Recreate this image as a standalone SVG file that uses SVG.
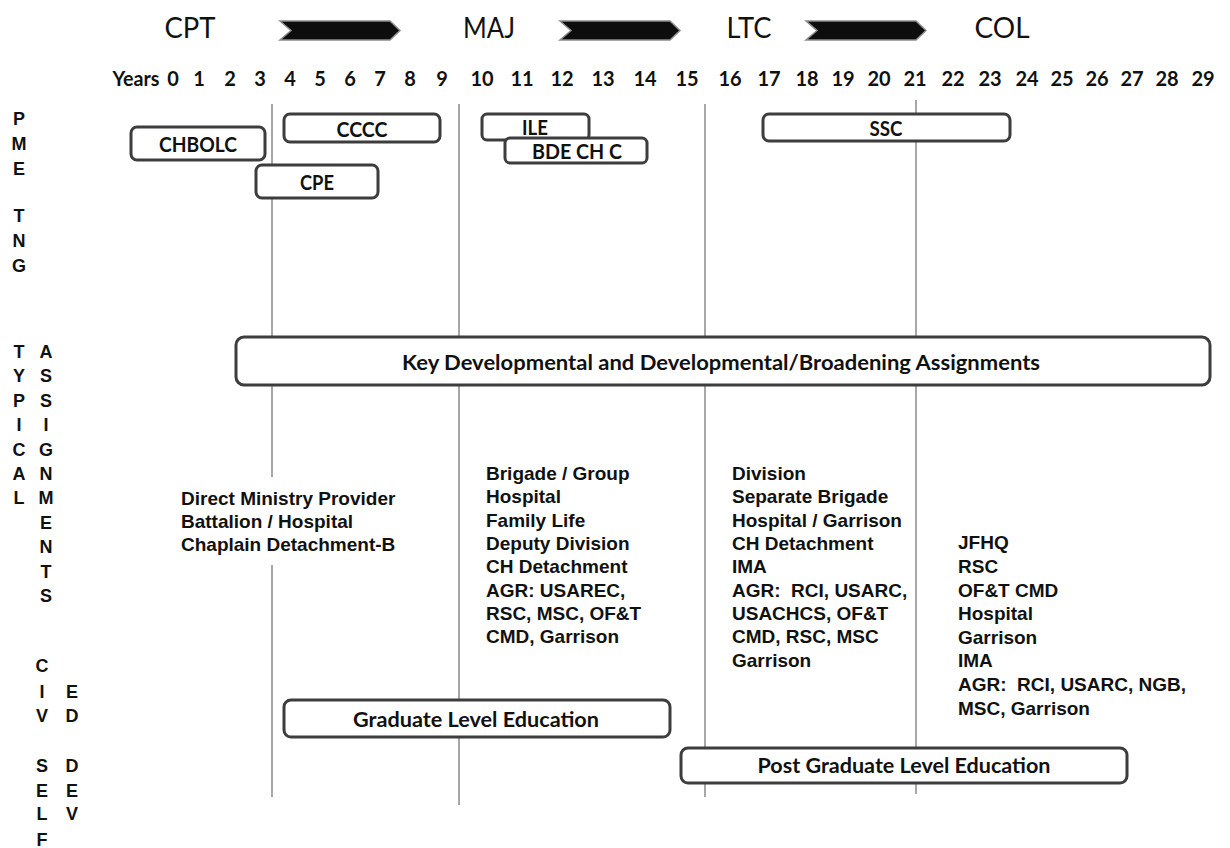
<svg xmlns="http://www.w3.org/2000/svg" width="1230" height="848" viewBox="0 0 1230 848">
<style>
.rank{font-family:Lato,"Liberation Sans",sans-serif;font-size:29px;fill:#111;text-anchor:middle}
.yr{font-family:Lato,"Liberation Sans",sans-serif;font-weight:700;font-size:20px;fill:#111;text-anchor:middle}
.side{font-family:"Liberation Sans",Arial,sans-serif;font-weight:700;font-size:18px;fill:#111;text-anchor:middle}
.side2{font-family:"Liberation Sans Narrow","Liberation Sans",Arial,sans-serif;font-stretch:condensed;font-weight:700;font-size:18px;fill:#111;text-anchor:middle}
.box{fill:#fff;stroke:#3d3d3d;stroke-width:3}
.bt{font-family:Lato,"Liberation Sans",sans-serif;font-weight:700;font-size:21px;fill:#111;text-anchor:middle}
.asg{font-family:"Liberation Sans",Arial,sans-serif;font-weight:700;font-size:19px;fill:#111}
.vl{stroke:#8a8a8a;stroke-width:1.5;fill:none}
.chev{fill:#0d0d0d;stroke:#8c8c8c;stroke-width:1.5}
</style>

<g id="ranks">
<text class="rank" x="190" y="38" textLength="51" lengthAdjust="spacingAndGlyphs">CPT</text>
<text class="rank" x="489" y="38" textLength="52" lengthAdjust="spacingAndGlyphs">MAJ</text>
<text class="rank" x="749" y="38" textLength="45" lengthAdjust="spacingAndGlyphs">LTC</text>
<text class="rank" x="1002" y="38" textLength="55" lengthAdjust="spacingAndGlyphs">COL</text>
<polygon class="chev" points="280,21 390,21 400,30.5 390,40 280,40 291,30.5"/>
<polygon class="chev" points="560,21 670,21 680,30.5 670,40 560,40 571,30.5"/>
<polygon class="chev" points="806,21 916,21 926,30.5 916,40 806,40 817,30.5"/>
</g>

<g id="years">
<text class="yr" x="136" y="86" textLength="47" lengthAdjust="spacingAndGlyphs">Years</text>
<text class="yr" x="173" y="86">0</text>
<text class="yr" x="199" y="86">1</text>
<text class="yr" x="230" y="86">2</text>
<text class="yr" x="260" y="86">3</text>
<text class="yr" x="290" y="86">4</text>
<text class="yr" x="320" y="86">5</text>
<text class="yr" x="350" y="86">6</text>
<text class="yr" x="380" y="86">7</text>
<text class="yr" x="410" y="86">8</text>
<text class="yr" x="442" y="86">9</text>
<text class="yr" x="482" y="86">10</text>
<text class="yr" x="522" y="86">11</text>
<text class="yr" x="562" y="86">12</text>
<text class="yr" x="603" y="86">13</text>
<text class="yr" x="645" y="86">14</text>
<text class="yr" x="687" y="86">15</text>
<text class="yr" x="730" y="86">16</text>
<text class="yr" x="769" y="86">17</text>
<text class="yr" x="807" y="86">18</text>
<text class="yr" x="843" y="86">19</text>
<text class="yr" x="879" y="86">20</text>
<text class="yr" x="915" y="86">21</text>
<text class="yr" x="953" y="86">22</text>
<text class="yr" x="990" y="86">23</text>
<text class="yr" x="1027" y="86">24</text>
<text class="yr" x="1062" y="86">25</text>
<text class="yr" x="1097" y="86">26</text>
<text class="yr" x="1132" y="86">27</text>
<text class="yr" x="1167" y="86">28</text>
<text class="yr" x="1203" y="86">29</text>
</g>

<g id="side-labels">
<text class="side" x="19" y="125">P</text>
<text class="side" x="19" y="150">M</text>
<text class="side" x="19" y="175">E</text>
<text class="side" x="19" y="222">T</text>
<text class="side" x="19" y="247">N</text>
<text class="side" x="19" y="272">G</text>

<text class="side" x="19" y="358">T</text>
<text class="side" x="19" y="382">Y</text>
<text class="side" x="19" y="407">P</text>
<text class="side" x="19" y="431">I</text>
<text class="side" x="19" y="456">C</text>
<text class="side" x="19" y="480">A</text>
<text class="side" x="19" y="504">L</text>

<text class="side" x="46" y="358">A</text>
<text class="side" x="46" y="382">S</text>
<text class="side" x="46" y="407">S</text>
<text class="side" x="46" y="431">I</text>
<text class="side" x="46" y="456">G</text>
<text class="side" x="46" y="480">N</text>
<text class="side" x="46" y="504">M</text>
<text class="side" x="46" y="529">E</text>
<text class="side" x="46" y="553">N</text>
<text class="side" x="46" y="578">T</text>
<text class="side" x="46" y="602">S</text>

<text class="side2" x="42" y="672">C</text>
<text class="side2" x="42" y="698">I</text>
<text class="side2" x="42" y="722">V</text>
<text class="side2" x="72" y="698">E</text>
<text class="side2" x="72" y="722">D</text>
<text class="side2" x="42" y="772">S</text>
<text class="side2" x="42" y="797">E</text>
<text class="side2" x="42" y="820">L</text>
<text class="side2" x="42" y="846">F</text>
<text class="side2" x="72" y="772">D</text>
<text class="side2" x="72" y="797">E</text>
<text class="side2" x="72" y="820">V</text>
</g>

<g id="connectors">
<line class="vl" x1="272" y1="104" x2="272" y2="477"/>
<line class="vl" x1="272" y1="565" x2="272" y2="797"/>
<line class="vl" x1="459" y1="104" x2="459" y2="805"/>
<line class="vl" x1="705" y1="104" x2="705" y2="797"/>
<line class="vl" x1="916" y1="100" x2="916" y2="794"/>
</g>

<g id="chbolc"><rect class="box" x="131" y="127" width="134" height="33" rx="6"/><text class="bt" x="198" y="152" textLength="78" lengthAdjust="spacingAndGlyphs">CHBOLC</text></g>
<g id="cccc"><rect class="box" x="284" y="114" width="156" height="28" rx="6"/><text class="bt" x="362" y="137" textLength="51" lengthAdjust="spacingAndGlyphs">CCCC</text></g>
<g id="cpe"><rect class="box" x="256" y="165" width="122" height="33" rx="6"/><text class="bt" x="317" y="190" textLength="34" lengthAdjust="spacingAndGlyphs">CPE</text></g>
<g id="ile"><rect class="box" x="482" y="114" width="107" height="26" rx="5"/><text class="bt" x="535" y="135" textLength="26" lengthAdjust="spacingAndGlyphs">ILE</text></g>
<g id="bdechc"><rect class="box" x="505" y="138" width="142" height="25" rx="5"/><text class="bt" x="577" y="159" textLength="90" lengthAdjust="spacingAndGlyphs">BDE CH C</text></g>
<g id="ssc"><rect class="box" x="763" y="114" width="247" height="27" rx="6"/><text class="bt" x="886" y="136" textLength="33" lengthAdjust="spacingAndGlyphs">SSC</text></g>
<g id="key"><rect class="box" x="236" y="337" width="974" height="48" rx="8"/><text class="bt" x="721" y="370" textLength="638" lengthAdjust="spacingAndGlyphs">Key Developmental and Developmental/Broadening Assignments</text></g>
<g id="grad"><rect class="box" x="284" y="700" width="386" height="37" rx="7"/><text class="bt" x="476" y="727" textLength="246" lengthAdjust="spacingAndGlyphs">Graduate Level Education</text></g>
<g id="postgrad"><rect class="box" x="681" y="748" width="446" height="35" rx="7"/><text class="bt" x="904" y="773" textLength="293" lengthAdjust="spacingAndGlyphs">Post Graduate Level Education</text></g>

<g id="assign-cpt">
<text class="asg" x="181" y="505">Direct Ministry Provider</text>
<text class="asg" x="181" y="528">Battalion / Hospital</text>
<text class="asg" x="181" y="551">Chaplain Detachment-B</text>
</g>
<g id="assign-maj">
<text class="asg" x="486" y="480">Brigade / Group</text>
<text class="asg" x="486" y="503">Hospital</text>
<text class="asg" x="486" y="527">Family Life</text>
<text class="asg" x="486" y="550">Deputy Division</text>
<text class="asg" x="486" y="573">CH Detachment</text>
<text class="asg" x="486" y="597">AGR: USAREC,</text>
<text class="asg" x="486" y="620">RSC, MSC, OF&amp;T</text>
<text class="asg" x="486" y="643">CMD, Garrison</text>
</g>
<g id="assign-ltc">
<text class="asg" x="732" y="480">Division</text>
<text class="asg" x="732" y="503">Separate Brigade</text>
<text class="asg" x="732" y="527">Hospital / Garrison</text>
<text class="asg" x="732" y="550">CH Detachment</text>
<text class="asg" x="732" y="573">IMA</text>
<text class="asg" x="732" y="597" xml:space="preserve">AGR:  RCI, USARC,</text>
<text class="asg" x="732" y="620">USACHCS, OF&amp;T</text>
<text class="asg" x="732" y="643">CMD, RSC, MSC</text>
<text class="asg" x="732" y="667">Garrison</text>
</g>
<g id="assign-col">
<text class="asg" x="958" y="549">JFHQ</text>
<text class="asg" x="958" y="573">RSC</text>
<text class="asg" x="958" y="597">OF&amp;T CMD</text>
<text class="asg" x="958" y="620">Hospital</text>
<text class="asg" x="958" y="644">Garrison</text>
<text class="asg" x="958" y="667">IMA</text>
<text class="asg" x="958" y="691" xml:space="preserve">AGR:  RCI, USARC, NGB,</text>
<text class="asg" x="958" y="715">MSC, Garrison</text>
</g>
</svg>
